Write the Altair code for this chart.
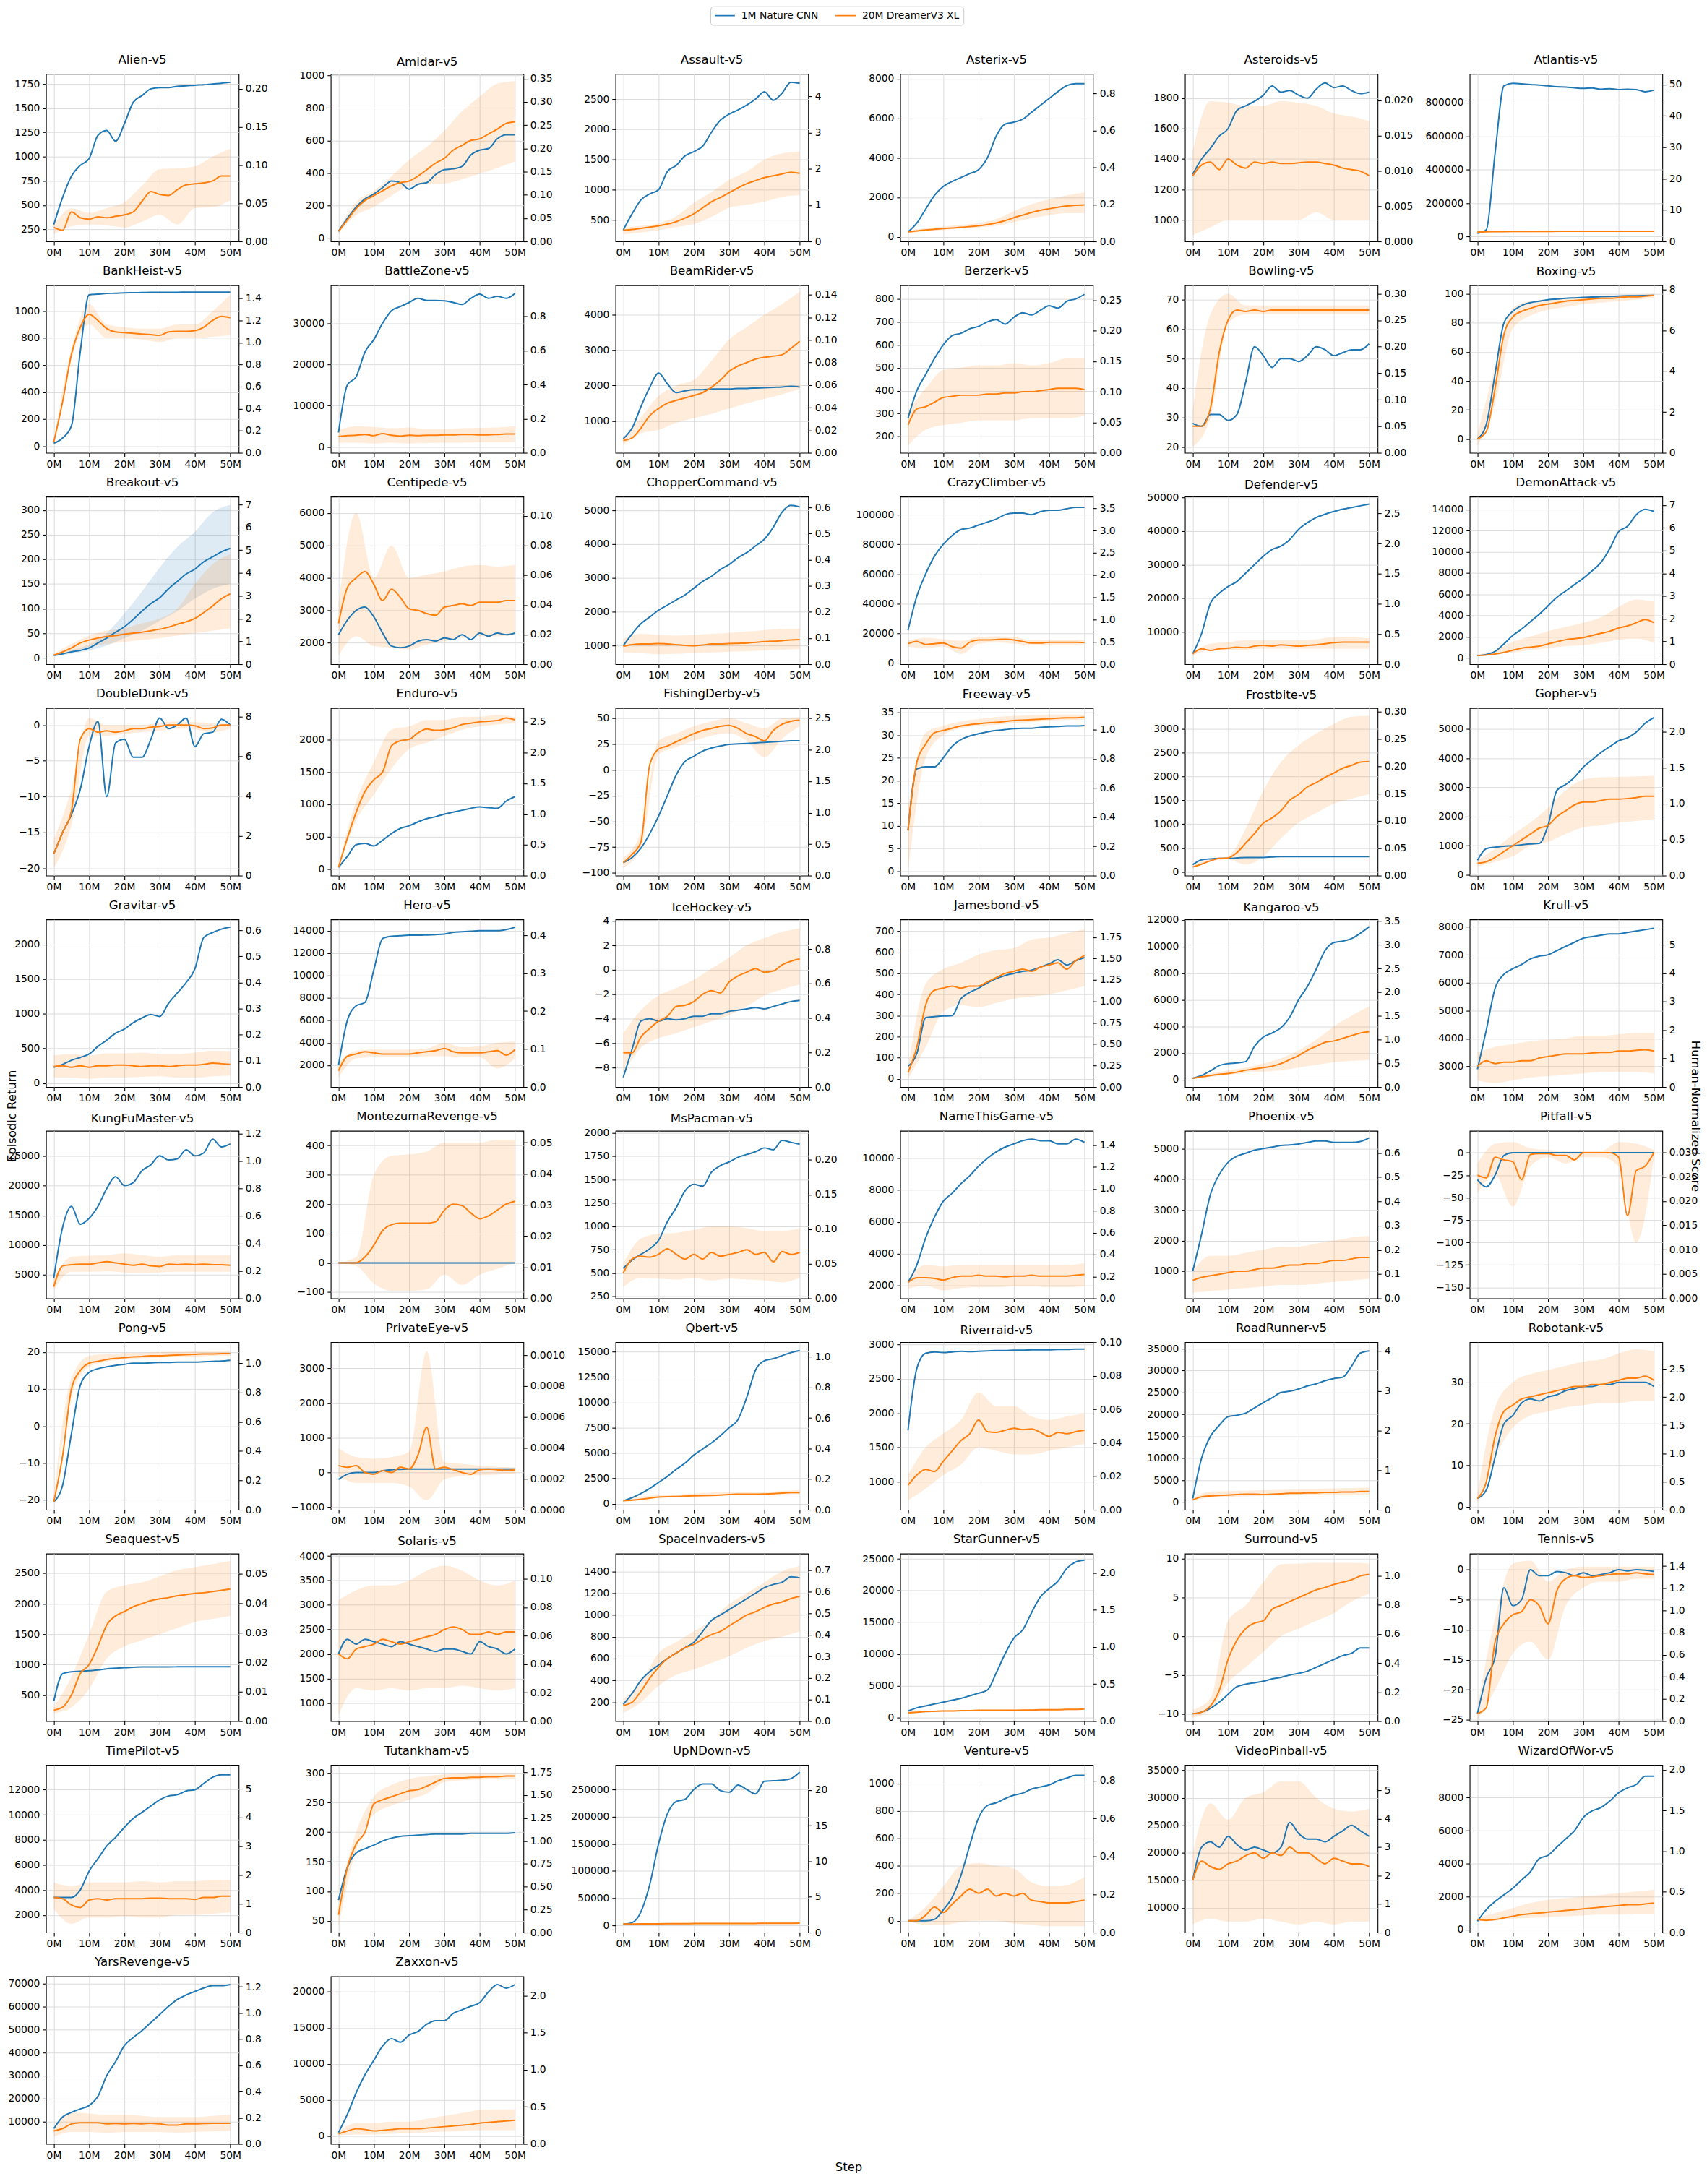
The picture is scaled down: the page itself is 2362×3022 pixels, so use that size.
import math
import altair as alt
import pandas as pd

STEPS = [0, 2.5, 5, 7.5, 10, 12.5, 15, 17.5, 20, 22.5, 25, 27.5, 30, 32.5, 35, 37.5, 40, 42.5, 45, 47.5, 50]
BAND_STEPS = [0, 5, 10, 15, 20, 25, 30, 35, 40, 45, 50]
SERIES = ["1M Nature CNN", "20M DreamerV3 XL"]
COLORS = ["#1f77b4", "#ff7f0e"]

GAMES = ["Alien", "Amidar", "Assault", "Asterix", "Asteroids", "Atlantis",
         "BankHeist", "BattleZone", "BeamRider", "Berzerk", "Bowling", "Boxing",
         "Breakout", "Centipede", "ChopperCommand", "CrazyClimber", "Defender", "DemonAttack",
         "DoubleDunk", "Enduro", "FishingDerby", "Freeway", "Frostbite", "Gopher",
         "Gravitar", "Hero", "IceHockey", "Jamesbond", "Kangaroo", "Krull",
         "KungFuMaster", "MontezumaRevenge", "MsPacman", "NameThisGame", "Phoenix", "Pitfall",
         "Pong", "PrivateEye", "Qbert", "Riverraid", "RoadRunner", "Robotank",
         "Seaquest", "Solaris", "SpaceInvaders", "StarGunner", "Surround", "Tennis",
         "TimePilot", "Tutankham", "UpNDown", "Venture", "VideoPinball", "WizardOfWor",
         "YarsRevenge", "Zaxxon"]

# left axis limits (episodic return) and tick step
YLIM = {
    "Alien": [126, 1854], "Amidar": [-22, 1010], "Assault": [143, 2917], "Asterix": [-230, 8242],
    "Asteroids": [858, 1960], "Atlantis": [-28600, 971700], "BankHeist": [-50, 1191],
    "BattleZone": [-1450, 39168], "BeamRider": [101, 4831], "Berzerk": [129, 859.5],
    "Bowling": [18, 74.9], "Boxing": [-9.6, 106], "Breakout": [-13, 327], "Centipede": [1341, 6504],
    "ChopperCommand": [453, 5405], "CrazyClimber": [-810, 112156], "Defender": [429, 50214],
    "DemonAttack": [-613, 15203], "DoubleDunk": [-21.04, 2.38], "Enduro": [-96, 2483],
    "FishingDerby": [-102.55, 59.75], "Freeway": [-0.95, 35.95], "Frostbite": [-80, 3432],
    "Gopher": [-25, 5724], "Gravitar": [-55, 2359], "Hero": [57, 15004], "IceHockey": [-9.59, 4.12],
    "Jamesbond": [-38.6, 756], "Kangaroo": [-558, 12036], "Krull": [2262, 8266],
    "KungFuMaster": [1040, 29202], "MontezumaRevenge": [-121, 450], "MsPacman": [229, 2023],
    "NameThisGame": [1200, 11721], "Phoenix": [114, 5580], "Pitfall": [-162.3, 24.4],
    "Pong": [-22.67, 22.67], "PrivateEye": [-1074, 3756], "Qbert": [-592, 15924],
    "Riverraid": [594, 3031], "RoadRunner": [-1755, 36478], "Robotank": [-0.75, 39.7],
    "Seaquest": [70, 2823], "Solaris": [627, 4049], "SpaceInvaders": [26, 1563],
    "StarGunner": [-606, 25833], "Surround": [-10.96, 10.68], "Tennis": [-25.24, 2.68],
    "TimePilot": [602, 13973], "Tutankham": [30, 313.8], "UpNDown": [-13251, 295053],
    "Venture": [-86, 1135], "VideoPinball": [5506, 35960], "WizardOfWor": [-189, 9985],
    "YarsRevenge": [312, 73021], "Zaxxon": [-1098, 22130],
}
LEFT_TICK = {
    "Alien": 250, "Amidar": 200, "Assault": 500, "Asterix": 2000, "Asteroids": 200, "Atlantis": 200000,
    "BankHeist": 200, "BattleZone": 10000, "BeamRider": 1000, "Berzerk": 100, "Bowling": 10, "Boxing": 20,
    "Breakout": 50, "Centipede": 1000, "ChopperCommand": 1000, "CrazyClimber": 20000, "Defender": 10000,
    "DemonAttack": 2000, "DoubleDunk": 5, "Enduro": 500, "FishingDerby": 25, "Freeway": 5, "Frostbite": 500,
    "Gopher": 1000, "Gravitar": 500, "Hero": 2000, "IceHockey": 2, "Jamesbond": 100, "Kangaroo": 2000,
    "Krull": 1000, "KungFuMaster": 5000, "MontezumaRevenge": 100, "MsPacman": 250, "NameThisGame": 2000,
    "Phoenix": 1000, "Pitfall": 25, "Pong": 10, "PrivateEye": 1000, "Qbert": 2500, "Riverraid": 500,
    "RoadRunner": 5000, "Robotank": 10, "Seaquest": 500, "Solaris": 500, "SpaceInvaders": 200,
    "StarGunner": 5000, "Surround": 5, "Tennis": 5, "TimePilot": 2000, "Tutankham": 50, "UpNDown": 50000,
    "Venture": 200, "VideoPinball": 5000, "WizardOfWor": 2000, "YarsRevenge": 10000, "Zaxxon": 5000,
}
# right axis (human-normalized score): top of axis and tick step
RIGHT_MAX = {
    "Alien": 0.2195, "Amidar": 0.3603, "Assault": 4.62, "Asterix": 0.906, "Asteroids": 0.02373,
    "Atlantis": 53.4, "BankHeist": 1.519, "BattleZone": 0.982, "BeamRider": 0.1485, "Berzerk": 0.2747,
    "Bowling": 0.3158, "Boxing": 8.21, "Breakout": 7.35, "Centipede": 0.113, "ChopperCommand": 0.641,
    "CrazyClimber": 3.759, "Defender": 2.779, "DemonAttack": 7.37, "DoubleDunk": 8.42, "Enduro": 2.726,
    "FishingDerby": 2.664, "Freeway": 1.148, "Frostbite": 0.3066, "Gopher": 2.326, "Gravitar": 0.641,
    "Hero": 0.4416, "IceHockey": 0.972, "Jamesbond": 1.957, "Kangaroo": 3.535, "Krull": 5.89,
    "KungFuMaster": 1.219, "MontezumaRevenge": 0.0538, "MsPacman": 0.242, "NameThisGame": 1.529,
    "Phoenix": 0.691, "Pitfall": 0.0344, "Pong": 1.143, "PrivateEye": 0.001084, "Qbert": 1.096,
    "Riverraid": 0.1001, "RoadRunner": 4.224, "Robotank": 2.974, "Seaquest": 0.0569, "Solaris": 0.1177,
    "SpaceInvaders": 0.778, "StarGunner": 2.259, "Surround": 1.152, "Tennis": 1.513, "TimePilot": 5.826,
    "Tutankham": 1.829, "UpNDown": 23.5, "Venture": 0.882, "VideoPinball": 5.885, "WizardOfWor": 2.059,
    "YarsRevenge": 1.279, "Zaxxon": 2.259,
}
RIGHT_TICK = {
    "Alien": 0.05, "Amidar": 0.05, "Assault": 1, "Asterix": 0.2, "Asteroids": 0.005, "Atlantis": 10,
    "BankHeist": 0.2, "BattleZone": 0.2, "BeamRider": 0.02, "Berzerk": 0.05, "Bowling": 0.05, "Boxing": 2,
    "Breakout": 1, "Centipede": 0.02, "ChopperCommand": 0.1, "CrazyClimber": 0.5, "Defender": 0.5,
    "DemonAttack": 1, "DoubleDunk": 2, "Enduro": 0.5, "FishingDerby": 0.5, "Freeway": 0.2, "Frostbite": 0.05,
    "Gopher": 0.5, "Gravitar": 0.1, "Hero": 0.1, "IceHockey": 0.2, "Jamesbond": 0.25, "Kangaroo": 0.5,
    "Krull": 1, "KungFuMaster": 0.2, "MontezumaRevenge": 0.01, "MsPacman": 0.05, "NameThisGame": 0.2,
    "Phoenix": 0.1, "Pitfall": 0.005, "Pong": 0.2, "PrivateEye": 0.0002, "Qbert": 0.2, "Riverraid": 0.02,
    "RoadRunner": 1, "Robotank": 0.5, "Seaquest": 0.01, "Solaris": 0.02, "SpaceInvaders": 0.1,
    "StarGunner": 0.5, "Surround": 0.2, "Tennis": 0.2, "TimePilot": 1, "Tutankham": 0.25, "UpNDown": 5,
    "Venture": 0.2, "VideoPinball": 1, "WizardOfWor": 0.5, "YarsRevenge": 0.2, "Zaxxon": 0.5,
}

# 1M Nature CNN mean return at STEPS
BLUE = {
    "Alien": [300, 580, 800, 910, 980, 1220, 1270, 1160, 1340, 1560, 1630, 1700, 1712, 1712, 1725, 1730, 1737, 1742, 1750, 1757, 1767],
    "Amidar": [40, 120, 190, 240, 270, 310, 350, 340, 300, 330, 340, 390, 420, 425, 440, 510, 540, 550, 610, 635, 635],
    "Assault": [330, 600, 830, 930, 1000, 1300, 1400, 1560, 1630, 1720, 1950, 2150, 2250, 2320, 2400, 2500, 2620, 2480, 2600, 2780, 2760],
    "Asterix": [250, 700, 1400, 2100, 2550, 2800, 3000, 3200, 3400, 4000, 5100, 5700, 5800, 5950, 6300, 6650, 7000, 7350, 7650, 7750, 7750],
    "Asteroids": [1300, 1400, 1470, 1550, 1600, 1720, 1750, 1780, 1820, 1880, 1840, 1850, 1820, 1800, 1860, 1900, 1870, 1880, 1850, 1830, 1840],
    "Atlantis": [20000, 40000, 500000, 900000, 915000, 912000, 908000, 905000, 900000, 895000, 893000, 888000, 885000, 887000, 880000, 883000, 878000, 880000, 878000, 865000, 875000],
    "BankHeist": [20, 60, 150, 700, 1120, 1125, 1130, 1132, 1135, 1136, 1137, 1138, 1138, 1139, 1139, 1140, 1140, 1140, 1140, 1140, 1140],
    "BattleZone": [3500, 15000, 17000, 23000, 26000, 30000, 33000, 34000, 35000, 36000, 35500, 35500, 35400, 35000, 34500, 36000, 37000, 36000, 36500, 36000, 37200],
    "BeamRider": [500, 800, 1400, 1950, 2350, 2050, 1800, 1850, 1880, 1880, 1900, 1900, 1900, 1920, 1920, 1930, 1940, 1950, 1960, 1980, 1960],
    "Berzerk": [280, 400, 470, 540, 600, 640, 650, 670, 680, 700, 710, 690, 720, 740, 730, 750, 770, 760, 790, 800, 820],
    "Bowling": [28, 27, 31, 31, 29, 31, 42, 54, 51, 47, 50, 50, 49, 51, 54, 53, 51, 52, 53, 53, 55],
    "Boxing": [0, 10, 45, 80, 88, 92, 94, 95, 96, 96.5, 97, 97.3, 97.6, 97.9, 98.1, 98.3, 98.5, 98.7, 98.8, 98.9, 99],
    "Breakout": [5, 8, 12, 15, 20, 30, 40, 52, 63, 78, 95, 110, 122, 140, 155, 170, 180, 195, 205, 215, 222],
    "Centipede": [2250, 2700, 3000, 3100, 2800, 2300, 1900, 1850, 1900, 2050, 2100, 2050, 2150, 2100, 2250, 2100, 2300, 2200, 2300, 2250, 2300],
    "ChopperCommand": [1000, 1350, 1650, 1850, 2050, 2200, 2350, 2500, 2700, 2900, 3050, 3250, 3400, 3600, 3750, 3950, 4150, 4500, 4950, 5150, 5100],
    "CrazyClimber": [22000, 45000, 60000, 72000, 80000, 86000, 90000, 91000, 93000, 95000, 97000, 100000, 101000, 101000, 100000, 102000, 103000, 103000, 104000, 105000, 105000],
    "Defender": [3500, 9500, 18500, 21500, 23500, 25000, 27500, 30000, 32500, 34500, 35500, 37500, 40500, 42500, 44000, 45000, 45800, 46500, 47000, 47500, 48000],
    "DemonAttack": [200, 300, 600, 1300, 2100, 2700, 3400, 4100, 4900, 5700, 6300, 6900, 7500, 8200, 9000, 10300, 11900, 12400, 13500, 14000, 13800],
    "DoubleDunk": [-18, -15, -12.5, -9, -3, 0.5, -10, -2.5, -2, -4.5, -4.5, -2, 1, -0.5, 0, 1, -3, -1.2, -1, 0.8, 0],
    "Enduro": [30, 200, 380, 400, 360, 450, 550, 630, 670, 730, 780, 810, 850, 880, 910, 940, 960, 950, 940, 1050, 1120],
    "FishingDerby": [-90, -85, -76, -62, -45, -25, -5, 8, 13, 18, 21, 23, 24.5, 25, 25.5, 26, 26.5, 27, 27.5, 28, 28],
    "Freeway": [9, 22.5, 23, 23, 25, 27.5, 29, 29.8, 30.3, 30.7, 31, 31.2, 31.4, 31.5, 31.5, 31.7, 31.8, 31.9, 32, 32, 32.1],
    "Frostbite": [150, 250, 270, 280, 280, 290, 300, 300, 300, 310, 320, 320, 320, 320, 320, 320, 320, 320, 320, 320, 320],
    "Gopher": [500, 900, 950, 980, 1000, 1030, 1060, 1080, 1700, 2900, 3100, 3350, 3700, 3950, 4200, 4400, 4600, 4700, 4900, 5200, 5400],
    "Gravitar": [230, 270, 330, 370, 420, 530, 620, 720, 780, 870, 940, 990, 960, 1150, 1300, 1450, 1650, 2100, 2170, 2220, 2250],
    "Hero": [2000, 6000, 7300, 7600, 10500, 13300, 13500, 13550, 13600, 13600, 13620, 13650, 13700, 13850, 13900, 13950, 14000, 14000, 14000, 14100, 14300],
    "IceHockey": [-8.8, -6.5, -4.2, -4.0, -4.2, -4.0, -4.1, -4.0, -3.8, -3.8, -3.6, -3.6, -3.4, -3.3, -3.2, -3.1, -3.2, -3.0, -2.8, -2.6, -2.5],
    "Jamesbond": [60, 120, 290, 295, 298, 300, 380, 410, 430, 455, 475, 490, 500, 510, 515, 530, 545, 565, 540, 560, 575],
    "Kangaroo": [100, 300, 650, 1050, 1200, 1250, 1350, 2500, 3200, 3500, 3900, 4700, 6000, 7000, 8300, 9700, 10300, 10400, 10600, 11000, 11500],
    "Krull": [2900, 4300, 5800, 6300, 6500, 6650, 6850, 6950, 7000, 7150, 7300, 7450, 7600, 7650, 7700, 7750, 7750, 7800, 7850, 7900, 7950],
    "KungFuMaster": [4500, 13000, 16500, 13500, 14500, 16500, 19500, 21500, 20000, 20500, 22500, 23500, 25000, 24300, 24500, 26000, 25000, 25500, 27800, 26500, 27000],
    "MontezumaRevenge": [0, 0, 0, 0, 0, 0, 0, 0, 0, 0, 0, 0, 0, 0, 0, 0, 0, 0, 0, 0, 0],
    "MsPacman": [550, 640, 700, 760, 850, 1050, 1200, 1380, 1450, 1430, 1580, 1650, 1690, 1740, 1770, 1800, 1840, 1820, 1920, 1900, 1880],
    "NameThisGame": [2200, 3300, 5000, 6300, 7300, 7800, 8400, 8900, 9500, 10000, 10400, 10700, 10900, 11100, 11200, 11100, 11100, 10900, 10900, 11200, 11000],
    "Phoenix": [1000, 2200, 3500, 4150, 4550, 4750, 4850, 4950, 5000, 5050, 5100, 5120, 5150, 5200, 5250, 5250, 5200, 5200, 5200, 5230, 5350],
    "Pitfall": [-30, -38, -25, -3, 0, 0, 0, 0, 0, 0, 0, 0, 0, 0, 0, 0, 0, 0, 0, 0, 0],
    "Pong": [-20.5, -16, -2, 11, 14.5, 15.5, 16, 16.4, 16.7, 17, 17, 17.1, 17.2, 17.2, 17.3, 17.3, 17.3, 17.4, 17.5, 17.6, 17.8],
    "PrivateEye": [-200, -50, 0, 0, 0, 50, 80, 90, 100, 100, 100, 100, 100, 100, 100, 100, 100, 100, 100, 100, 100],
    "Qbert": [300, 600, 1000, 1500, 2100, 2700, 3400, 4000, 4800, 5400, 6000, 6700, 7500, 8300, 10500, 13200, 14100, 14300, 14600, 14900, 15100],
    "Riverraid": [1750, 2650, 2870, 2890, 2880, 2890, 2900, 2895, 2900, 2905, 2910, 2910, 2915, 2915, 2920, 2920, 2920, 2925, 2925, 2930, 2930],
    "RoadRunner": [800, 10000, 15000, 17500, 19500, 19800, 20300, 21500, 22700, 23800, 25000, 25300, 25800, 26500, 27000, 27700, 28200, 28500, 31000, 34000, 34500],
    "Robotank": [2, 4, 12, 20, 22, 25, 26, 25.5, 26.5, 27, 28, 28.5, 29, 29, 29.5, 29.5, 30, 30, 30, 30, 29],
    "Seaquest": [400, 850, 880, 890, 900, 910, 930, 940, 950, 955, 960, 960, 960, 962, 963, 965, 965, 965, 965, 965, 965],
    "Solaris": [2000, 2300, 2200, 2300, 2250, 2200, 2150, 2250, 2200, 2150, 2100, 2050, 2100, 2100, 2050, 2000, 2250, 2150, 2100, 2000, 2100],
    "SpaceInvaders": [180, 280, 400, 480, 540, 600, 650, 700, 750, 850, 950, 1000, 1050, 1100, 1150, 1200, 1250, 1280, 1300, 1350, 1340],
    "StarGunner": [1000, 1500, 1800, 2100, 2400, 2700, 3000, 3400, 3800, 4300, 7000, 10000, 12500, 13800, 16500, 19000, 20300, 21500, 23500, 24500, 24800],
    "Surround": [-10, -9.8, -9.3, -8.5, -7.5, -6.5, -6.2, -6, -5.8, -5.5, -5.3, -5, -4.8, -4.5, -4, -3.5, -3, -2.5, -2.2, -1.5, -1.5],
    "Tennis": [-24, -18, -14.5, -3, -6, -5, 0, -1, -1, -0.3, -0.5, -1, -0.5, -1, -0.8, -0.5, 0, -0.2, 0, -0.1, -0.3],
    "TimePilot": [3400, 3400, 3400, 4000, 5500, 6500, 7500, 8200, 9000, 9700, 10200, 10700, 11200, 11500, 11600, 11900, 12000, 12500, 13000, 13200, 13200],
    "Tutankham": [85, 140, 165, 172, 178, 185, 190, 193, 194, 195, 196, 197, 197, 197, 197, 198, 198, 198, 198, 198, 199],
    "UpNDown": [2000, 5000, 25000, 75000, 150000, 205000, 228000, 232000, 250000, 260000, 260000, 248000, 245000, 258000, 250000, 242000, 265000, 266000, 267000, 270000, 282000],
    "Venture": [0, 0, 0, 10, 80, 170, 330, 550, 750, 840, 860, 890, 915, 930, 960, 975, 990, 1020, 1040, 1060, 1060],
    "VideoPinball": [15000, 21000, 22000, 21000, 23000, 21500, 20500, 21000, 20500, 20000, 21000, 25500, 23500, 22500, 22500, 22000, 23000, 24000, 25000, 24000, 23000],
    "WizardOfWor": [500, 1200, 1700, 2100, 2500, 3000, 3500, 4300, 4500, 5000, 5500, 6000, 6800, 7200, 7400, 7800, 8300, 8600, 8800, 9300, 9300],
    "YarsRevenge": [7000, 12000, 14000, 15500, 17000, 21000, 30000, 36000, 43000, 46500, 49500, 53000, 56500, 60000, 63000, 65000, 66500, 68000, 69000, 69000, 69500],
    "Zaxxon": [500, 3000, 6000, 8500, 10500, 12500, 13500, 13000, 14000, 14500, 15500, 16000, 16000, 17000, 17500, 18000, 18500, 20000, 21000, 20500, 21000],
}

# 20M DreamerV3 XL mean return at STEPS
ORANGE = {
    "Alien": [270, 240, 430, 370, 355, 380, 370, 385, 400, 430, 540, 640, 610, 600, 660, 710, 720, 730, 750, 800, 800],
    "Amidar": [40, 110, 180, 230, 260, 290, 320, 340, 350, 380, 420, 460, 490, 540, 570, 600, 610, 640, 670, 705, 715],
    "Assault": [330, 340, 360, 380, 400, 430, 470, 530, 600, 700, 800, 870, 950, 1030, 1100, 1150, 1200, 1230, 1260, 1290, 1270],
    "Asterix": [250, 300, 350, 380, 420, 450, 480, 520, 560, 620, 700, 820, 970, 1100, 1230, 1340, 1420, 1500, 1560, 1600, 1620],
    "Asteroids": [1290, 1360, 1380, 1330, 1400, 1360, 1340, 1380, 1370, 1380, 1370, 1370, 1375, 1380, 1380, 1370, 1360, 1340, 1330, 1320, 1290],
    "Atlantis": [28000, 29000, 30000, 30000, 30500, 30500, 31000, 31000, 31000, 31500, 31500, 31500, 32000, 32000, 32000, 32000, 32000, 32000, 32000, 32000, 32000],
    "BankHeist": [30, 330, 680, 880, 975, 930, 870, 845, 840, 835, 830, 825, 820, 845, 850, 850, 855, 880, 930, 960, 950],
    "BattleZone": [2500, 2700, 2800, 3000, 2700, 3200, 2800, 2600, 2800, 2700, 2800, 2800, 2900, 2900, 3000, 3000, 2900, 2900, 3000, 3100, 3100],
    "BeamRider": [450, 520, 800, 1150, 1350, 1500, 1580, 1650, 1720, 1800, 1950, 2150, 2400, 2550, 2650, 2750, 2800, 2830, 2870, 3050, 3250],
    "Berzerk": [250, 320, 330, 350, 370, 375, 380, 380, 380, 385, 385, 390, 390, 395, 395, 400, 405, 410, 410, 410, 405],
    "Bowling": [27, 27, 33, 52, 63, 66.5, 66, 66.5, 66, 66.5, 66.5, 66.5, 66.5, 66.5, 66.5, 66.5, 66.5, 66.5, 66.5, 66.5, 66.5],
    "Boxing": [0, 5, 35, 72, 84, 88, 90, 92, 93, 94, 95, 95.5, 96, 96.5, 97, 97, 97.5, 98, 98, 98.5, 99],
    "Breakout": [5, 12, 20, 30, 36, 40, 43, 45, 48, 50, 52, 55, 58, 62, 68, 73, 80, 92, 105, 120, 130],
    "Centipede": [2600, 3700, 4000, 4200, 3800, 3300, 3650, 3400, 3050, 3000, 2900, 2850, 3100, 3150, 3200, 3150, 3250, 3250, 3250, 3300, 3300],
    "ChopperCommand": [980, 1030, 1050, 1050, 1060, 1050, 1030, 1010, 1000, 1020, 1050, 1050, 1060, 1070, 1080, 1100, 1120, 1130, 1150, 1170, 1180],
    "CrazyClimber": [13000, 14500, 12500, 13000, 13500, 11000, 10000, 14000, 15500, 15500, 15800, 16000, 15500, 14500, 13500, 13500, 14000, 14000, 14000, 14000, 13800],
    "Defender": [3500, 5000, 4500, 5000, 5200, 5500, 5300, 5800, 6000, 5800, 6200, 6000, 5800, 6000, 6200, 6500, 6800, 7000, 7000, 7000, 7000],
    "DemonAttack": [200, 250, 350, 500, 700, 900, 1000, 1100, 1300, 1500, 1700, 1800, 1900, 2100, 2300, 2500, 2800, 3000, 3300, 3600, 3300],
    "DoubleDunk": [-18, -15, -12, -2, -0.5, -1, -0.8, -1, -0.8, -0.5, -0.5, -0.3, -0.2, 0, 0, 0, -0.1, -0.5, -0.4, 0, 0],
    "Enduro": [30, 480, 880, 1200, 1380, 1500, 1900, 1980, 2000, 2100, 2160, 2140, 2150, 2180, 2230, 2250, 2270, 2280, 2290, 2330, 2300],
    "FishingDerby": [-90, -82, -70, 5, 20, 23, 27, 31, 35, 38, 40, 42, 43, 40, 35, 32, 28, 38, 44, 47, 48],
    "Freeway": [9, 24, 28, 30.5, 31, 31.5, 32, 32.3, 32.5, 32.7, 32.8, 33, 33.2, 33.3, 33.4, 33.5, 33.6, 33.7, 33.8, 33.8, 33.9],
    "Frostbite": [100, 160, 230, 280, 290, 400, 600, 800, 1020, 1130, 1280, 1500, 1620, 1780, 1870, 1980, 2070, 2170, 2230, 2300, 2310],
    "Gopher": [400, 450, 600, 800, 1000, 1200, 1400, 1600, 1700, 2000, 2200, 2400, 2500, 2500, 2550, 2600, 2600, 2620, 2650, 2700, 2700],
    "Gravitar": [240, 250, 230, 250, 230, 250, 250, 260, 260, 250, 240, 250, 250, 240, 250, 260, 260, 270, 290, 280, 270],
    "Hero": [1500, 2800, 3000, 3200, 3100, 3000, 3000, 3000, 3000, 3100, 3200, 3300, 3500, 3200, 3100, 3100, 3100, 3200, 3300, 2900, 3400],
    "IceHockey": [-6.8, -6.8, -5.5, -4.8, -4.2, -3.8, -3.0, -2.9, -2.6, -2.0, -1.7, -1.9, -1.0, -0.5, -0.2, 0.1, -0.2, -0.1, 0.4, 0.7, 0.9],
    "Jamesbond": [30, 150, 350, 420, 430, 440, 430, 440, 440, 460, 480, 500, 510, 520, 510, 530, 540, 550, 520, 560, 585],
    "Kangaroo": [100, 200, 300, 400, 450, 550, 700, 800, 900, 1000, 1200, 1500, 1800, 2200, 2500, 2800, 2900, 3100, 3300, 3500, 3600],
    "Krull": [3000, 3200, 3100, 3150, 3150, 3200, 3200, 3300, 3350, 3400, 3450, 3450, 3450, 3480, 3500, 3500, 3550, 3550, 3580, 3600, 3550],
    "KungFuMaster": [3000, 6500, 6700, 6800, 6800, 7000, 7200, 7000, 6800, 6600, 6800, 6500, 6400, 6800, 6700, 6800, 6700, 6800, 6700, 6700, 6600],
    "MontezumaRevenge": [0, 0, 0, 20, 60, 110, 130, 135, 135, 135, 135, 140, 180, 200, 195, 170, 150, 160, 180, 200, 210],
    "MsPacman": [500, 650, 680, 670, 700, 760, 700, 650, 700, 650, 720, 680, 700, 720, 750, 700, 720, 620, 730, 700, 720],
    "NameThisGame": [2200, 2500, 2500, 2450, 2350, 2500, 2600, 2600, 2650, 2600, 2600, 2550, 2600, 2600, 2650, 2600, 2600, 2600, 2600, 2650, 2700],
    "Phoenix": [700, 800, 850, 900, 950, 1000, 1000, 1050, 1100, 1100, 1150, 1200, 1200, 1250, 1250, 1300, 1350, 1350, 1400, 1450, 1450],
    "Pitfall": [-25, -28, -5, -8, -10, -30, -2, -1, -1, -3, -3, -8, 0, 0, 0, 0, -5, -70, -20, -15, 0],
    "Pong": [-20.5, -8, 10, 15, 17, 17.5, 18, 18.3, 18.5, 18.7, 18.8, 19, 19, 19.1, 19.2, 19.3, 19.4, 19.5, 19.5, 19.6, 19.6],
    "PrivateEye": [200, 150, 200, 0, -50, 50, 0, 150, 100, 500, 1300, 100, 150, 80, 0, -50, 80, 100, 80, 60, 80],
    "Qbert": [300, 350, 450, 550, 650, 700, 720, 750, 780, 800, 820, 850, 900, 950, 950, 950, 970, 1000, 1050, 1100, 1100],
    "Riverraid": [950, 1100, 1180, 1150, 1300, 1450, 1600, 1700, 1900, 1730, 1720, 1750, 1780, 1760, 1770, 1720, 1660, 1720, 1700, 1730, 1750],
    "RoadRunner": [500, 1200, 1400, 1500, 1600, 1700, 1800, 1800, 1700, 1800, 1900, 2000, 2000, 2100, 2100, 2200, 2200, 2300, 2300, 2400, 2400],
    "Robotank": [2, 6, 17, 23, 24.5, 26, 26.5, 27, 27.5, 28, 28.5, 29, 29, 29.5, 29.5, 30, 30.5, 31, 31, 31.5, 30.5],
    "Seaquest": [250, 300, 500, 850, 1000, 1300, 1650, 1800, 1870, 1950, 2000, 2050, 2080, 2100, 2130, 2150, 2170, 2180, 2200, 2220, 2240],
    "Solaris": [2000, 1900, 2100, 2150, 2200, 2300, 2250, 2200, 2250, 2300, 2350, 2400, 2500, 2550, 2500, 2400, 2400, 2450, 2400, 2450, 2450],
    "SpaceInvaders": [170, 200, 300, 420, 520, 600, 650, 700, 730, 780, 820, 850, 900, 950, 1000, 1030, 1070, 1100, 1120, 1150, 1170],
    "StarGunner": [700, 800, 900, 950, 1000, 1000, 1050, 1050, 1100, 1100, 1100, 1100, 1100, 1150, 1150, 1200, 1200, 1200, 1250, 1250, 1300],
    "Surround": [-10, -9.8, -9, -7, -3, -0.5, 1, 1.7, 2, 3.5, 4, 4.5, 5, 5.5, 6, 6.3, 6.7, 7, 7.3, 7.8, 8],
    "Tennis": [-24, -23, -12, -9, -7.5, -7, -5, -6, -9, -3.5, -1.5, -1, -1.3, -1.2, -1, -0.8, -0.7, -0.7, -0.5, -0.7, -0.8],
    "TimePilot": [3400, 3300, 2800, 2600, 3200, 3300, 3200, 3300, 3300, 3300, 3300, 3350, 3350, 3300, 3300, 3300, 3250, 3400, 3400, 3500, 3500],
    "Tutankham": [60, 140, 180, 200, 248, 255, 260, 265, 270, 272, 278, 285, 291, 292, 292, 293, 293, 294, 294, 295, 295],
    "UpNDown": [2500, 2600, 2700, 2800, 2900, 3000, 3100, 3200, 3300, 3300, 3400, 3400, 3500, 3500, 3600, 3600, 3700, 3800, 3800, 3900, 4000],
    "Venture": [0, 0, 40, 100, 60, 120, 180, 230, 200, 230, 180, 200, 180, 200, 150, 140, 130, 130, 130, 140, 150],
    "VideoPinball": [15000, 18500, 17500, 17000, 18000, 18500, 19500, 20000, 19000, 20000, 19500, 21000, 20000, 20000, 19000, 18000, 19000, 18500, 18000, 18000, 17500],
    "WizardOfWor": [600, 550, 600, 700, 800, 900, 950, 1000, 1050, 1100, 1150, 1200, 1250, 1300, 1350, 1400, 1450, 1500, 1500, 1550, 1600],
    "YarsRevenge": [6000, 7000, 9000, 9500, 9500, 9500, 9000, 9200, 9000, 9200, 9000, 9300, 9000, 8500, 8500, 9000, 9000, 9200, 9300, 9300, 9300],
    "Zaxxon": [300, 700, 1000, 900, 700, 800, 900, 1000, 1000, 1000, 1100, 1200, 1300, 1400, 1500, 1600, 1800, 1900, 2000, 2100, 2200],
}

# DreamerV3 spread band (lower / upper) at BAND_STEPS
BAND_LO = {
    "Alien": [200, 280, 300, 290, 270, 330, 400, 300, 470, 480, 550],
    "Amidar": [30, 140, 190, 260, 320, 330, 335, 360, 395, 430, 470],
    "Assault": [260, 290, 330, 380, 430, 550, 700, 750, 800, 880, 910],
    "Asterix": [180, 280, 350, 420, 480, 560, 750, 950, 1100, 1200, 1200],
    "Asteroids": [900, 950, 1000, 1000, 1000, 1000, 1000, 1050, 1000, 1000, 1000],
    "Atlantis": [20000, 24000, 25000, 25500, 26000, 26500, 27000, 27000, 27000, 27000, 27000],
    "BankHeist": [20, 650, 900, 800, 800, 790, 770, 800, 800, 810, 820],
    "BattleZone": [1000, 1000, 800, 1000, 800, 900, 1000, 1000, 1100, 1100, 1200],
    "BeamRider": [320, 650, 750, 950, 1080, 1200, 1350, 1500, 1620, 1750, 1900],
    "Berzerk": [160, 230, 250, 260, 270, 270, 270, 280, 280, 280, 290],
    "Bowling": [20, 30, 62, 65, 65, 65, 65, 65, 65, 65, 65],
    "Boxing": [-5, 25, 76, 85, 89, 91, 93, 94, 95, 96, 97],
    "Breakout": [3, 12, 22, 28, 32, 36, 40, 45, 50, 55, 60],
    "Centipede": [1600, 2200, 1900, 1850, 1800, 1950, 2050, 2150, 2200, 2200, 2250],
    "ChopperCommand": [800, 780, 750, 760, 780, 800, 820, 840, 860, 880, 900],
    "CrazyClimber": [11000, 10000, 11000, 6000, 13000, 14000, 13000, 12000, 12500, 12500, 12500],
    "Defender": [3000, 4500, 4500, 4800, 5000, 5000, 5000, 5000, 5000, 5000, 5000],
    "DemonAttack": [100, 300, 500, 700, 900, 1100, 1200, 1400, 1700, 1800, 1400],
    "DoubleDunk": [-20, -14, -1.5, -1.5, -1.2, -1, -0.8, -0.5, -0.6, -1, -0.5],
    "Enduro": [20, 750, 1150, 1550, 1850, 1950, 2050, 2150, 2200, 2230, 2250],
    "FishingDerby": [-95, -75, 15, 22, 28, 33, 35, 28, 12, 30, 42],
    "Freeway": [0, 25, 30, 31.5, 32, 32.3, 32.6, 32.9, 33.1, 33.3, 33.4],
    "Frostbite": [80, 220, 260, 150, 320, 700, 1030, 1230, 1430, 1530, 1630],
    "Gopher": [300, 450, 640, 1000, 1130, 1400, 1630, 1700, 1790, 1850, 1920],
    "Gravitar": [80, 80, 60, 80, 80, 90, 100, 80, 80, 100, 110],
    "Hero": [900, 2600, 2700, 2700, 2700, 2800, 2800, 2700, 2700, 1700, 2600],
    "IceHockey": [-8.5, -6.4, -5.6, -5.2, -4.7, -4.2, -3.7, -3.0, -2.1, -1.6, -1.2],
    "Jamesbond": [0, 150, 320, 350, 340, 360, 380, 390, 400, 420, 440],
    "Kangaroo": [50, 200, 350, 500, 600, 700, 900, 1100, 1300, 1400, 1450],
    "Krull": [2500, 2400, 2500, 2600, 2650, 2700, 2750, 2800, 2800, 2800, 2750],
    "KungFuMaster": [2500, 5500, 5500, 5600, 5400, 5300, 5400, 5500, 5500, 5500, 5500],
    "MontezumaRevenge": [0, -10, -70, -95, -95, -90, -40, -75, -40, -20, 0],
    "MsPacman": [350, 450, 440, 430, 450, 420, 440, 430, 420, 400, 450],
    "NameThisGame": [1800, 2000, 1700, 1850, 1900, 1900, 1950, 1950, 1900, 1900, 1950],
    "Phoenix": [300, 350, 400, 450, 500, 550, 550, 600, 650, 700, 750],
    "Pitfall": [-45, -25, -60, -15, -5, -12, -5, -5, -15, -100, -5],
    "Pong": [-21, 8, 16, 17.5, 18, 18.3, 18.5, 18.7, 18.8, 19, 19],
    "PrivateEye": [-100, -300, -300, -300, -400, -800, -200, -100, -80, -60, -30],
    "Qbert": [250, 550, 700, 750, 800, 800, 850, 850, 900, 950, 950],
    "Riverraid": [730, 900, 1100, 1250, 1500, 1450, 1400, 1400, 1450, 1500, 1550],
    "RoadRunner": [200, 1100, 1200, 1300, 1400, 1500, 1600, 1600, 1700, 1700, 1800],
    "Robotank": [1, 12, 19, 22, 23, 24, 24.5, 25, 25, 25.5, 25.5],
    "Seaquest": [200, 300, 600, 1100, 1300, 1400, 1500, 1600, 1700, 1750, 1800],
    "Solaris": [750, 1300, 1250, 1300, 1250, 1300, 1300, 1350, 1300, 1250, 1300],
    "SpaceInvaders": [100, 200, 350, 450, 500, 560, 620, 700, 760, 800, 850],
    "StarGunner": [500, 800, 900, 900, 1000, 1000, 1000, 1050, 1100, 1100, 1200],
    "Surround": [-10.5, -9.5, -6, -4, -2, 0, 1, 2, 3, 4.5, 5.5],
    "Tennis": [-25, -20, -14, -12, -15, -6, -3, -2, -2, -1.5, -1.5],
    "TimePilot": [2500, 1300, 1800, 1800, 1900, 1800, 1800, 2000, 2000, 2100, 2200],
    "Tutankham": [40, 170, 230, 245, 255, 265, 285, 288, 289, 290, 290],
    "UpNDown": [1000, 1200, 1400, 1600, 1800, 2000, 2100, 2200, 2300, 2400, 2500],
    "Venture": [0, -30, -30, -10, 0, 0, -20, -30, -40, -40, -40],
    "VideoPinball": [7000, 8000, 7500, 7500, 8000, 7500, 7000, 7500, 7000, 7500, 7500],
    "WizardOfWor": [500, 550, 650, 700, 750, 800, 850, 900, 900, 950, 950],
    "YarsRevenge": [3500, 5500, 5500, 5000, 5500, 5500, 5500, 5200, 5500, 5800, 6000],
    "Zaxxon": [100, 200, 200, 300, 400, 500, 600, 700, 800, 800, 800],
}
BAND_HI = {
    "Alien": [290, 470, 420, 470, 530, 700, 870, 880, 900, 1000, 1080],
    "Amidar": [50, 220, 290, 380, 480, 560, 660, 780, 870, 950, 965],
    "Assault": [370, 400, 440, 560, 780, 960, 1160, 1300, 1500, 1600, 1630],
    "Asterix": [320, 430, 520, 600, 700, 900, 1300, 1650, 1900, 2100, 2250],
    "Asteroids": [1450, 1780, 1770, 1750, 1750, 1780, 1770, 1750, 1700, 1680, 1650],
    "Atlantis": [34000, 36000, 36000, 36500, 37000, 37000, 37000, 37000, 37000, 37000, 37000],
    "BankHeist": [40, 720, 1050, 900, 880, 870, 870, 900, 900, 1000, 1120],
    "BattleZone": [4000, 5000, 4800, 4500, 4700, 4300, 4300, 4500, 4600, 4700, 5000],
    "BeamRider": [500, 1100, 1700, 2000, 2160, 2700, 3300, 3650, 4000, 4300, 4650],
    "Berzerk": [310, 410, 490, 500, 510, 510, 520, 510, 520, 540, 540],
    "Bowling": [33, 65, 72, 68, 68, 68, 68, 68, 68, 68, 68],
    "Boxing": [3, 50, 90, 95, 96, 97, 98, 99, 99, 99.5, 100],
    "Breakout": [8, 28, 45, 55, 60, 70, 80, 100, 150, 190, 210],
    "Centipede": [3200, 6000, 4000, 5000, 4000, 4100, 4200, 4350, 4400, 4350, 4400],
    "ChopperCommand": [1200, 1350, 1320, 1300, 1320, 1350, 1380, 1420, 1460, 1500, 1500],
    "CrazyClimber": [15000, 17000, 16000, 15000, 17500, 18000, 17500, 15500, 15500, 15500, 15500],
    "Defender": [4000, 6500, 7000, 7500, 7500, 7500, 7500, 7800, 8500, 8500, 8000],
    "DemonAttack": [300, 700, 1500, 2000, 2500, 2900, 3300, 3800, 4800, 5500, 5300],
    "DoubleDunk": [-16, -9, 1, 0, 0, 0, 0.3, 0.5, 0.4, 0.3, 0.3],
    "Enduro": [60, 1050, 1650, 2150, 2200, 2300, 2300, 2350, 2350, 2380, 2340],
    "FishingDerby": [-85, -60, 28, 35, 42, 47, 50, 45, 40, 50, 51],
    "Freeway": [14, 30.5, 32, 33, 33.5, 34, 34.2, 34.4, 34.5, 34.5, 34.5],
    "Frostbite": [150, 260, 320, 900, 1700, 2300, 2650, 2900, 3100, 3250, 3270],
    "Gopher": [500, 900, 1380, 1800, 2300, 2900, 3270, 3350, 3360, 3380, 3400],
    "Gravitar": [400, 420, 400, 430, 430, 440, 420, 420, 440, 470, 460],
    "Hero": [2200, 3300, 3400, 3400, 3400, 3500, 4000, 3600, 3700, 4000, 4100],
    "IceHockey": [-5.2, -3.3, -2.1, -1.5, -0.8, 0.1, 1.0, 2.0, 2.6, 3.1, 3.4],
    "Jamesbond": [50, 450, 520, 550, 590, 610, 620, 660, 670, 690, 710],
    "Kangaroo": [150, 450, 700, 900, 1200, 1600, 2200, 3000, 4000, 4800, 5500],
    "Krull": [3500, 3700, 3800, 3900, 3950, 4000, 4100, 4100, 4150, 4200, 4200],
    "KungFuMaster": [4500, 8000, 8200, 8300, 8600, 8300, 8000, 8300, 8300, 8300, 8300],
    "MontezumaRevenge": [0, 20, 300, 365, 370, 380, 410, 410, 410, 420, 420],
    "MsPacman": [600, 870, 920, 930, 960, 1000, 1000, 980, 950, 950, 980],
    "NameThisGame": [2400, 3300, 3200, 3300, 3300, 3300, 3300, 3300, 3300, 3300, 3400],
    "Phoenix": [1000, 1500, 1500, 1600, 1700, 1800, 1800, 1900, 2000, 2100, 2150],
    "Pitfall": [-12, 10, 12, 5, 3, 2, 2, 2, 12, 10, 3],
    "Pong": [-19, 13, 19, 19.5, 19.7, 19.8, 20, 20.1, 20.2, 20.3, 20.3],
    "PrivateEye": [700, 450, 400, 450, 600, 3500, 300, 250, 200, 160, 150],
    "Qbert": [350, 700, 850, 900, 1000, 1100, 1150, 1150, 1200, 1250, 1350],
    "Riverraid": [1100, 1500, 1700, 1900, 2300, 2100, 2100, 1950, 1900, 1950, 2000],
    "RoadRunner": [800, 2400, 2500, 2600, 2700, 2800, 2900, 3000, 3100, 3200, 3300],
    "Robotank": [3, 24, 30, 32, 33, 34, 35, 35.5, 37, 38, 37.5],
    "Seaquest": [300, 800, 1500, 2200, 2300, 2350, 2450, 2550, 2600, 2650, 2700],
    "Solaris": [3100, 3300, 3400, 3400, 3500, 3700, 3800, 3700, 3500, 3400, 3500],
    "SpaceInvaders": [230, 380, 650, 750, 850, 950, 1100, 1200, 1300, 1400, 1450],
    "StarGunner": [900, 1000, 1100, 1150, 1200, 1200, 1250, 1300, 1300, 1350, 1400],
    "Surround": [-9.5, -8, 2, 4, 7, 9.3, 9.4, 9.5, 9.5, 9.5, 9.4],
    "Tennis": [-23, -8, 1, 1.5, -2, 0, 0.5, 0.5, 0.5, 0.5, 0.5],
    "TimePilot": [4600, 4300, 4600, 4600, 4600, 4700, 4600, 4700, 4700, 4800, 4800],
    "Tutankham": [90, 200, 260, 280, 290, 295, 298, 300, 300, 300, 300],
    "UpNDown": [4000, 4200, 4400, 4600, 4800, 5000, 5100, 5200, 5300, 5400, 5500],
    "Venture": [0, 100, 250, 400, 420, 400, 380, 280, 250, 260, 320],
    "VideoPinball": [20000, 29000, 26000, 30000, 31000, 33000, 33000, 30000, 28000, 27500, 28000],
    "WizardOfWor": [700, 1000, 1300, 1600, 1800, 1900, 2000, 2100, 2200, 2300, 2400],
    "YarsRevenge": [7500, 14000, 13500, 13000, 13000, 12500, 12000, 12000, 12000, 12500, 13000],
    "Zaxxon": [600, 1800, 1800, 2000, 2000, 2400, 2800, 3200, 3600, 3700, 3700],
}
# Nature CNN spread band (only visibly wide for Breakout)
BLUE_BAND_LO = {"Breakout": [3, 8, 15, 25, 40, 55, 75, 95, 120, 140, 150]}
BLUE_BAND_HI = {"Breakout": [6, 15, 27, 50, 90, 135, 183, 225, 256, 295, 310]}

X_TICKS = [0, 10, 20, 30, 40, 50]
FONT = "DejaVu Sans"
W, H = 268, 233
XDOM = [-2.2, 52.4]
LABEL_HALF = 7.0


def decimals(step):
    for d in range(0, 7):
        v = step * (10 ** d)
        if abs(round(v) - v) < 1e-6:
            return d
    return 6


def tick_values(lo, hi, step):
    start = math.ceil(lo / step - 1e-9)
    end = math.floor(hi / step + 1e-9)
    return [round(k * step, 8) for k in range(start, end + 1)]


def top_overflow(lo, hi, ticks):
    # how far the topmost tick label sticks out above the plot frame
    if not ticks:
        return 0.0
    d = (hi - max(ticks)) / (hi - lo) * H
    return max(0.0, LABEL_HALF - d)


legend = alt.Legend(
    title=None, orient="none", legendX=924, legendY=-94, direction="horizontal",
    symbolType="stroke", symbolStrokeWidth=2, symbolSize=784, clipHeight=16,
    labelFont=FONT, labelFontSize=13.9, labelColor="black",
    strokeColor="#cccccc", fillColor="white", padding=5, cornerRadius=4,
    columnPadding=22, labelOffset=8,
)

panels = []
for idx, g in enumerate(GAMES):
    ylim = YLIM[g]
    lstep = LEFT_TICK[g]
    rmax = RIGHT_MAX[g]
    rstep = RIGHT_TICK[g]
    lvals = tick_values(ylim[0], ylim[1], lstep)
    rvals = tick_values(0, rmax, rstep)

    xaxis_kw = dict(values=X_TICKS, labelExpr="datum.value + 'M'", grid=True, title=None)
    if g == "Zaxxon":
        xaxis_kw.update(title="Step", titleX=720, titleY=32, titleAlign="center",
                        titleBaseline="middle", titleAngle=0)
    xaxis = alt.Axis(**xaxis_kw)
    xenc = alt.X("x:Q", scale=alt.Scale(domain=XDOM, nice=False, zero=False), axis=xaxis)

    laxis_kw = dict(values=lvals, format=f".{decimals(lstep)}f", grid=True, title=None, orient="left")
    if g == "Gravitar":
        laxis_kw.update(title="Episodic Return", titleX=-47, titleY=273, titleAngle=270,
                        titleAlign="center", titleBaseline="middle")
    laxis = alt.Axis(**laxis_kw)
    ysc = alt.Scale(domain=ylim, nice=False, zero=False)

    raxis_kw = dict(values=rvals, format=f".{decimals(rstep)}f", grid=False, title=None, orient="right")
    if g == "Krull":
        raxis_kw.update(title="Human-Normalized Score", titleX=45, titleY=273, titleAngle=90,
                        titleAlign="center", titleBaseline="middle")
    raxis = alt.Axis(**raxis_kw)

    line_rows = []
    for s, vals in ((SERIES[0], BLUE[g]), (SERIES[1], ORANGE[g])):
        for x, v in zip(STEPS, vals):
            line_rows.append({"x": x, "v": v, "series": s})
    line_df = pd.DataFrame(line_rows)
    band_df = pd.DataFrame([{"x": x, "lo": lo, "hi": hi}
                            for x, lo, hi in zip(BAND_STEPS, BAND_LO[g], BAND_HI[g])])

    layers = []
    if g in BLUE_BAND_LO:
        bb_df = pd.DataFrame([{"x": x, "lo": lo, "hi": hi}
                              for x, lo, hi in zip(BAND_STEPS, BLUE_BAND_LO[g], BLUE_BAND_HI[g])])
        layers.append(
            alt.Chart(bb_df).mark_area(color=COLORS[0], opacity=0.15, interpolate="monotone", clip=True)
            .encode(x=xenc, y=alt.Y("lo:Q", scale=ysc, axis=laxis), y2="hi:Q")
        )
    layers.append(
        alt.Chart(band_df).mark_area(color=COLORS[1], opacity=0.15, interpolate="monotone", clip=True)
        .encode(x=xenc, y=alt.Y("lo:Q", scale=ysc, axis=laxis), y2="hi:Q")
    )
    layers.append(
        alt.Chart(line_df).mark_line(strokeWidth=2, interpolate="monotone", clip=True)
        .encode(
            x=xenc,
            y=alt.Y("v:Q", scale=ysc, axis=laxis),
            color=alt.Color("series:N", scale=alt.Scale(domain=SERIES, range=COLORS), legend=legend),
        )
    )
    inner = alt.layer(*layers)

    right_df = pd.DataFrame({"r": [0, rmax]})
    right = alt.Chart(right_df).mark_point(opacity=0).encode(
        y=alt.Y("r:Q", scale=alt.Scale(domain=[0, rmax], nice=False, zero=True), axis=raxis)
    )

    dy = max(top_overflow(ylim[0], ylim[1], lvals), top_overflow(0, rmax, rvals))
    panel = alt.layer(inner, right).resolve_scale(y="independent").properties(
        width=W, height=H, title=alt.TitleParams(text=f"{g}-v5", dy=round(dy, 2))
    )
    panels.append(panel)

chart = alt.concat(*panels, columns=6, spacing={"row": 61, "column": 128}, bounds="flush").properties(
    padding={"left": 0, "top": -8, "right": 0, "bottom": 0}
)

chart = (
    chart.configure_axis(
        labelFont=FONT, labelFontSize=13.9, labelColor="black",
        tickColor="black", tickSize=4.9, tickWidth=1.1, domain=False,
        gridColor="#dcdcdc", gridWidth=1.0, labelPadding=4,
        titleFont=FONT, titleFontSize=16.5, titleFontWeight="normal", titleColor="black",
        labelOverlap=False, labelFlush=False,
    )
    .configure_view(stroke="black", strokeWidth=1.1)
    .configure_title(font=FONT, fontSize=16.7, fontWeight="normal", color="black", offset=8, anchor="middle")
)

chart.save("out.html", embed_options={"renderer": "svg", "actions": False})
